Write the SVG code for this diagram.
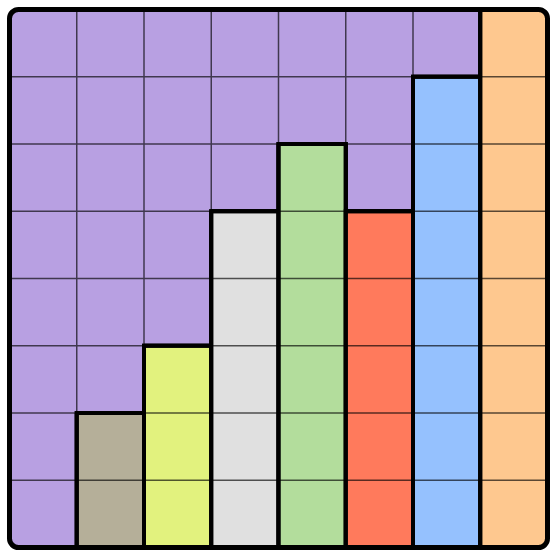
<svg xmlns="http://www.w3.org/2000/svg" width="559" height="559" viewBox="0 0 559 559">
<style>
.reg{stroke:#000;stroke-width:4;stroke-linejoin:miter}
.grid{stroke:#000;stroke-opacity:0.65;stroke-width:1.5;fill:none}
</style>
<defs>
<clipPath id="board"><rect x="9.5" y="9.5" width="538" height="538" rx="9"/></clipPath>
</defs>
<rect width="559" height="559" fill="#fff"/>
<g clip-path="url(#board)">
<g id="purple"><polygon class="reg" fill="#b8a0e2" points="9.5,9.5 480.25,9.5 480.25,76.75 413,76.75 413,211.25 345.75,211.25 345.75,144 278.5,144 278.5,211.25 211.25,211.25 211.25,345.75 144,345.75 144,413 76.75,413 76.75,547.5 9.5,547.5"/></g>
<g id="tan"><rect class="reg" fill="#b5af99" x="76.75" y="413" width="67.25" height="134.5"/></g>
<g id="yellow"><rect class="reg" fill="#e2f27e" x="144" y="345.75" width="67.25" height="201.75"/></g>
<g id="gray"><rect class="reg" fill="#e0e0e0" x="211.25" y="211.25" width="67.25" height="336.25"/></g>
<g id="green"><rect class="reg" fill="#b3dd9c" x="278.5" y="144" width="67.25" height="403.5"/></g>
<g id="red"><rect class="reg" fill="#ff7a5c" x="345.75" y="211.25" width="67.25" height="336.25"/></g>
<g id="blue"><rect class="reg" fill="#95c1fe" x="413" y="76.75" width="67.25" height="470.75"/></g>
<g id="orange"><rect class="reg" fill="#fec88f" x="480.25" y="9.5" width="67.25" height="538"/></g>
<path class="grid" d="M76.75 9.5V547.5M144 9.5V547.5M211.25 9.5V547.5M278.5 9.5V547.5M345.75 9.5V547.5M413 9.5V547.5M480.25 9.5V547.5M9.5 76.75H547.5M9.5 144H547.5M9.5 211.25H547.5M9.5 278.5H547.5M9.5 345.75H547.5M9.5 413H547.5M9.5 480.25H547.5"/>
<path fill="none" stroke="#000" stroke-width="4" d="M480.25 9.5V547.5M413 76.75H480.25M413 76.75V547.5M345.75 211.25H413M345.75 144V547.5M278.5 144H345.75M278.5 144V547.5M211.25 211.25H278.5M211.25 211.25V547.5M144 345.75H211.25M144 345.75V547.5M76.75 413H144M76.75 413V547.5"/>
</g>
<rect x="9.5" y="9.5" width="538" height="538" rx="9" fill="none" stroke="#000" stroke-width="5"/>
</svg>
